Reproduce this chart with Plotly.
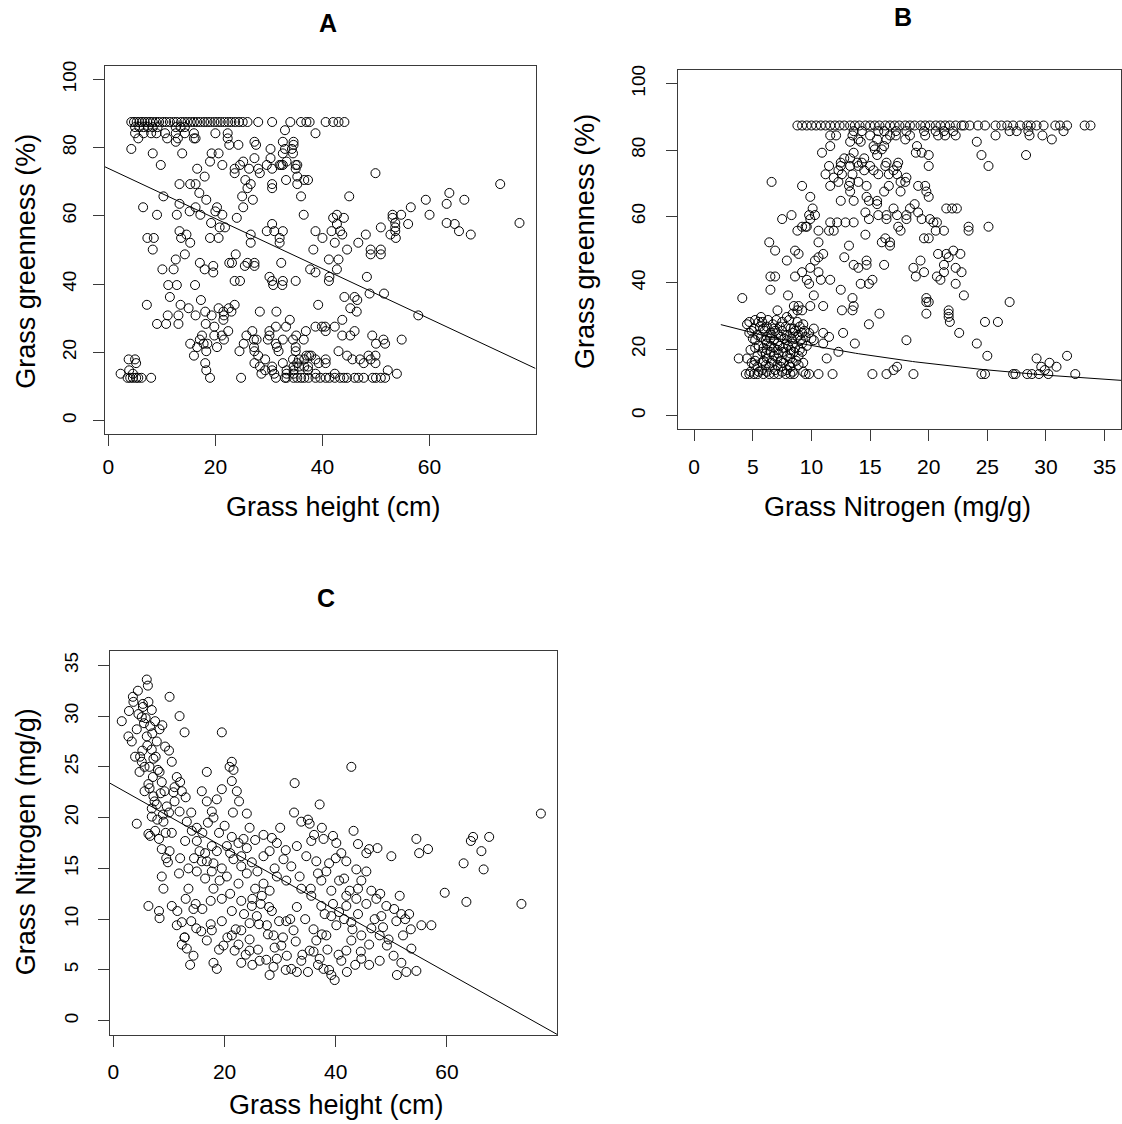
import numpy as np
import plotly.graph_objects as go

W, H = 1122, 1124

# ---- Panel A: grass height (cm) vs greenness (%), rows grouped by greenness ----
A_ROWS = [
    (87.5, [4.3, 4.8, 5.3, 5.8, 6.3, 6.8, 7.3, 7.8, 8.3, 8.9, 9.5, 10.2, 10.8, 11.5, 12.2, 12.8,
            13.6, 14.2, 14.8, 15.4, 16.0, 16.6, 17.2, 17.9, 18.5, 19.1, 19.8, 20.4, 21.0, 21.7,
            22.4, 23.0, 23.7, 24.4, 25.1, 26.0, 28.0, 30.6, 34.0, 36.0, 37.0, 37.6, 40.6, 42.0,
            43.0, 44.1]),
    (86.0, [5.0, 5.8, 6.6, 7.4, 8.3, 9.2, 12.6, 13.5, 14.3]),
    (85.1, [33.0]),
    (84.2, [5.0, 6.6, 8.0, 9.0, 10.6, 12.6, 14.3, 16.0, 20.0, 22.3, 38.7]),
    (82.7, [5.6, 11.0, 13.0, 16.0, 16.3, 22.3]),
    (81.7, [12.6, 27.3, 32.6, 34.6]),
    (80.8, [22.6, 24.3, 27.6, 34.6]),
    (79.6, [4.3, 30.3, 33.0, 34.3]),
    (78.3, [8.3, 13.8, 19.3, 20.6, 32.6, 34.5]),
    (76.9, [27.3, 30.3]),
    (75.9, [19.0, 25.2, 33.3]),
    (74.9, [9.8, 21.3, 24.6, 29.6, 32.0, 32.3, 32.6, 35.0, 35.3]),
    (73.8, [16.6, 23.6, 26.3, 28.0, 30.6, 35.0]),
    (72.5, [23.6, 28.3, 49.9]),
    (71.5, [18.0, 35.3]),
    (70.5, [25.6, 33.2, 36.6, 37.3]),
    (69.3, [13.3, 15.3, 16.3, 26.6, 30.6, 35.3, 73.2]),
    (68.1, [26.0, 30.6]),
    (66.7, [17.0, 63.7]),
    (65.7, [10.3, 25.0, 36.0, 45.0]),
    (64.7, [18.3, 27.0, 59.3, 66.5]),
    (63.5, [13.3, 63.2]),
    (62.5, [6.5, 16.3, 20.3, 25.2, 56.5]),
    (61.3, [15.2, 20.0]),
    (60.3, [9.1, 12.8, 17.2, 21.3, 36.5, 42.7, 53.1, 54.7, 60.0]),
    (59.4, [24.0, 42.0, 44.0, 53.1]),
    (57.9, [19.2, 53.6, 63.2, 76.8]),
    (57.6, [30.6, 42.7, 56.0, 64.7]),
    (56.6, [20.8, 21.8, 50.9, 53.6]),
    (55.5, [13.3, 29.6, 31.0, 32.6, 38.7, 41.7, 43.3, 53.6, 65.5]),
    (54.5, [14.6, 26.6, 43.7, 48.1, 52.7, 67.7]),
    (53.5, [7.3, 8.5, 13.6, 19.0, 20.6, 32.0, 40.0, 53.7]),
    (52.1, [15.3, 26.6, 32.0, 42.3, 46.7]),
    (50.1, [8.3, 38.3, 44.6, 49.0, 50.9]),
    (48.7, [14.3, 23.8, 49.0, 50.9]),
    (47.2, [12.6, 41.2, 43.0]),
    (46.2, [17.1, 22.6, 23.1, 26.0, 27.3, 32.3]),
    (45.3, [19.6, 25.5, 27.3]),
    (44.3, [10.1, 12.2, 18.0, 37.7, 42.7]),
    (43.4, [19.6, 38.7]),
    (42.1, [30.1, 41.3, 48.3]),
    (40.9, [23.6, 24.6, 30.6, 32.6, 35.0, 41.2]),
    (39.7, [11.2, 12.8, 16.2, 30.8, 32.5]),
    (37.2, [48.8, 51.5]),
    (36.2, [11.5, 44.1, 46.0]),
    (35.3, [17.3, 46.5]),
    (33.9, [7.2, 13.5, 23.6, 39.2]),
    (32.9, [15.0, 20.6, 22.5, 45.2]),
    (31.9, [18.1, 21.5, 23.0, 28.3, 31.4, 46.4]),
    (30.8, [11.1, 13.1, 16.3, 19.3, 21.6, 57.9]),
    (29.5, [21.5, 33.9, 43.7]),
    (28.3, [9.1, 10.8, 13.1, 18.2]),
    (27.5, [19.8, 31.3, 33.2, 38.7, 39.9, 40.5, 42.3]),
    (26.2, [22.4, 26.9, 30.1, 36.9, 40.6, 46.0]),
    (24.9, [17.5, 19.8, 21.2, 25.8, 30.1, 35.1, 43.7, 45.2, 49.3]),
    (23.7, [17.1, 21.6, 27.2, 27.7, 29.8, 32.6, 34.5, 36.5, 51.4, 54.8]),
    (22.5, [15.3, 17.8, 18.5, 25.3, 31.3, 50.0, 51.7]),
    (21.5, [16.6, 20.3, 27.2, 31.5, 35.0]),
    (20.3, [18.3, 24.5, 27.3, 31.8, 35.0, 43.0]),
    (19.0, [16.0, 28.0, 37.0, 37.5, 37.9, 44.6, 48.6, 49.9]),
    (17.9, [3.8, 5.0, 29.3, 34.5, 35.6, 36.6, 38.7, 40.6, 45.6, 47.0, 49.0]),
    (16.8, [5.2, 18.1, 27.3, 32.6, 35.3, 39.3, 40.6, 47.7, 49.9]),
    (15.8, [28.3, 30.6, 34.6, 35.6, 36.6, 37.3]),
    (14.7, [3.9, 18.3, 29.3, 30.6, 33.3, 34.6, 37.3, 52.2]),
    (13.7, [2.3, 4.6, 28.6, 31.0, 33.3, 34.6, 38.7, 42.3, 53.9]),
    (12.5, [3.6, 4.1, 4.6, 5.2, 5.6, 6.2, 8.0, 19.0, 24.8, 31.3, 33.0, 33.3, 34.6, 35.3, 36.0,
            36.6, 37.4, 38.7, 39.6, 40.6, 41.3, 42.3, 43.3, 44.0, 44.6, 46.0, 46.7, 47.7, 49.4,
            50.0, 50.9, 51.7]),
]
A_FIT = (73.9, -0.735)          # intercept, slope of the linear fit

# ---- Panel B: grass nitrogen (mg/g) vs greenness (%), rows grouped by greenness ----
B_ROWS = [
    (87.4, [8.8, 9.2, 9.6, 10.0, 10.4, 10.8, 11.2, 11.6, 12.0, 12.4, 12.8, 13.3, 13.7, 14.1,
            14.6, 15.0, 15.4, 15.8, 16.3, 16.7, 17.1, 17.5, 18.0, 18.4, 18.8, 19.3, 19.7, 20.1,
            20.6, 21.0, 21.4, 21.8, 22.3, 22.8, 23.0, 23.5, 24.2, 24.8, 25.7, 26.2, 26.7, 27.2,
            27.8, 28.4, 28.7, 29.2, 29.8, 30.8, 31.2, 31.8, 33.3, 33.8]),
    (85.7, [13.6, 14.3, 15.7, 16.2, 17.2, 18.1, 19.6, 20.6, 21.3, 22.1, 26.9, 27.5, 28.5, 31.5]),
    (84.4, [11.6, 12.1, 13.5, 15.0, 16.7, 17.2, 18.4, 19.7, 20.8, 21.4, 22.3, 25.7, 28.6, 29.7]),
    (83.2, [14.0, 15.6, 16.4, 18.0, 30.5]),
    (82.5, [13.3, 14.2, 24.1]),
    (81.2, [11.6, 15.3, 16.2, 19.0]),
    (80.2, [15.4, 16.0]),
    (79.2, [10.9, 13.6, 18.9, 19.4]),
    (78.5, [15.6, 20.0, 24.5, 28.3]),
    (77.5, [12.8, 13.3, 14.5]),
    (76.2, [12.5, 13.9, 14.3, 16.4, 17.4]),
    (75.2, [11.5, 12.5, 13.3, 14.0, 15.0, 16.3, 17.3, 20.0, 25.1]),
    (73.9, [12.3, 14.5, 15.3, 17.0]),
    (72.7, [11.2, 12.6, 13.5, 15.7, 16.6, 17.3]),
    (71.7, [11.9, 18.1]),
    (70.4, [6.6, 12.3, 13.3, 14.0, 17.6, 18.0]),
    (69.2, [9.2, 11.6, 13.2, 14.7, 16.6, 19.1, 19.7]),
    (67.5, [13.3, 16.2, 17.6, 19.8]),
    (65.9, [9.9, 14.7, 20.0]),
    (64.7, [12.5, 13.6, 14.9, 15.6]),
    (63.7, [15.6, 18.8]),
    (62.4, [10.1, 17.0, 18.4, 21.5, 22.0, 22.4]),
    (61.2, [14.6, 19.1]),
    (60.4, [8.3, 9.8, 10.3, 15.7, 16.4, 17.3, 18.1]),
    (59.2, [7.5, 9.9, 14.9, 16.4, 18.1, 19.4, 20.1]),
    (58.2, [11.6, 12.2, 12.9, 13.6, 20.4, 20.7]),
    (56.9, [9.2, 9.5, 9.6, 17.4, 23.4, 25.1]),
    (55.7, [8.8, 10.6, 11.5, 11.9, 17.6, 20.6, 21.3, 23.4]),
    (54.5, [14.6]),
    (53.4, [16.3, 19.6, 20.0]),
    (52.2, [6.4, 10.6, 16.0, 16.7]),
    (51.2, [13.2, 16.7]),
    (49.7, [6.9, 8.6, 22.1]),
    (48.7, [8.9, 11.0, 20.8, 21.5, 22.7]),
    (47.7, [10.6, 12.8, 21.7]),
    (46.7, [7.9, 10.3, 14.7, 19.3]),
    (45.4, [13.6, 14.7, 16.2, 21.3]),
    (44.5, [9.9, 14.0, 18.7, 22.3]),
    (43.2, [9.2, 10.6, 19.6, 21.3, 22.8]),
    (41.9, [6.5, 6.9, 8.6, 18.9, 20.7]),
    (40.9, [9.6, 10.8, 11.6, 15.2, 21.0]),
    (39.7, [9.8, 14.2, 14.9, 22.3]),
    (37.9, [6.5, 12.5]),
    (36.2, [8.0, 10.2, 23.0]),
    (35.4, [4.1, 13.5, 19.8]),
    (34.2, [19.8, 20.0, 26.9]),
    (33.0, [8.5, 8.9, 9.9, 11.0, 13.6]),
    (31.7, [7.1, 8.8, 9.2, 12.6, 13.5, 21.7]),
    (30.7, [8.4, 15.8, 19.8, 21.7]),
    (29.7, [5.7, 7.9, 21.7]),
    (28.8, [5.2, 6.3, 7.0, 8.1]),
    (28.2, [4.7, 5.5, 5.8, 7.5, 8.8, 21.8, 24.8, 25.9]),
    (27.5, [4.5, 14.9, 6.7, 9.3]),
    (26.8, [5.6, 6.2, 7.3, 7.8, 9.0]),
    (26.2, [5.1, 5.9, 6.8, 8.2, 8.5, 10.2]),
    (25.5, [4.9, 6.0, 6.9, 7.5, 8.6, 9.4]),
    (24.9, [4.7, 6.5, 7.1, 8.4, 9.2, 9.8, 11.0, 12.7, 22.6]),
    (24.3, [5.4, 6.6, 7.9, 8.9]),
    (23.7, [5.7, 6.2, 7.4, 8.8, 9.5, 11.5]),
    (23.2, [5.0, 6.5, 7.7, 8.3, 10.0]),
    (22.7, [5.2, 6.1, 6.8, 7.9, 9.1, 10.2, 18.1]),
    (21.7, [6.2, 7.1, 8.4, 9.2, 11.0, 13.7, 24.1]),
    (21.0, [5.5, 6.5, 7.3, 8.0, 9.6]),
    (20.4, [5.2, 5.9, 6.8, 7.6, 8.6]),
    (19.8, [4.8, 6.2, 7.1, 8.2, 9.0]),
    (19.2, [5.8, 6.5, 7.6, 8.5, 9.2, 12.3]),
    (18.7, [6.1, 7.2, 8.2]),
    (18.0, [5.4, 6.8, 7.9, 8.9, 25.0, 31.8]),
    (17.2, [3.8, 4.5, 6.2, 7.1, 8.2, 11.3, 29.2]),
    (16.5, [5.2, 5.9, 6.7, 7.4, 8.7]),
    (15.9, [4.9, 5.8, 6.6, 7.6, 8.4, 9.3, 30.3]),
    (15.2, [5.1, 6.1, 7.1, 8.1, 8.9]),
    (14.7, [5.4, 6.4, 7.4, 8.2, 17.3, 29.6, 30.9]),
    (13.7, [5.8, 6.9, 7.9, 17.0, 29.9]),
    (13.2, [4.8, 5.5, 6.2, 7.5, 8.4, 9.3]),
    (12.5, [4.4, 4.7, 5.1, 5.4, 5.9, 6.4, 6.8, 7.2, 7.8, 8.2, 8.5, 9.5, 9.8, 10.6, 11.8, 15.2,
            16.4, 18.7, 24.5, 24.8, 27.2, 27.4, 28.4, 28.8, 29.4, 30.2, 32.5]),
]
B_FIT = (3.3922, -0.03652, 0.000225)   # log-scale quadratic coefficients
B_FIT_RANGE = (2.27, 36.4)

# ---- Panel C: grass height (cm) vs grass nitrogen (mg/g) ----
C_HEIGHT = [
    1.5, 2.8, 3.5, 4.4, 6.0, 6.2, 3.3, 4.2, 5.1, 5.5, 6.0, 6.9, 7.2, 6.5, 5.6, 5.1, 7.8, 8.3,
    7.5, 6.9, 6.3, 5.3, 3.6, 4.7, 5.6, 6.5, 7.2, 7.8, 6.9, 7.5, 6.3, 4.2, 8.2, 8.7, 9.0, 9.6,
    8.7, 8.3, 9.2, 10.1, 11.9, 12.8, 10.5, 11.4, 12.3, 11.0, 11.9, 13.2, 14.1, 12.9, 10.5, 10.1,
    9.8, 8.7, 9.0, 10.5, 8.2, 8.3, 11.4, 12.8, 13.2, 11.5, 14.4, 14.9, 13.5, 15.0, 16.8, 19.5,
    16.8, 15.9, 16.8, 17.7, 18.6, 19.5, 20.9, 21.3, 22.2, 22.6, 24.0, 24.5, 23.4, 21.3, 20.4,
    18.6, 17.7, 15.0, 15.5, 15.9, 17.7, 19.1, 20.4, 21.6, 23.0, 24.9, 25.9, 27.0, 28.1, 29.4,
    30.6, 32.0, 32.6, 33.8, 35.6, 37.1, 33.0, 34.7, 36.5, 38.3, 40.1, 41.0, 41.9, 42.8, 43.2,
    43.7, 44.6, 45.5, 46.4, 43.7, 41.9, 40.6, 39.2, 37.4, 35.6, 33.8, 31.1, 29.4, 28.1, 26.7,
    24.9, 23.0, 21.3, 19.5, 17.7, 16.8, 18.0, 18.6, 19.8, 21.3, 23.0, 24.5, 25.8, 27.6, 28.8,
    30.2, 31.2, 32.0, 33.0, 33.8, 35.3, 36.5, 37.1, 37.8, 39.2, 39.8, 41.0, 41.9, 42.8, 44.6,
    46.4, 47.9, 49.2, 50.4, 51.8, 52.7, 54.5, 53.6, 52.1, 50.9, 51.8, 53.2, 55.4, 57.2, 50.0,
    51.5, 54.5, 56.6, 55.0, 59.6, 63.0, 63.5, 64.3, 64.7, 66.2, 66.6, 67.6, 73.4, 76.9,
    6.3, 12.3, 14.4, 13.8, 28.1, 29.4, 26.3, 24.5, 23.0, 21.8, 32.4, 31.1, 28.5, 38.3, 40.1,
    42.8, 44.6, 46.0, 47.9, 51.0, 48.2, 49.1, 47.3, 39.2, 37.4, 40.6, 41.9, 21.3, 21.6, 35.3,
    36.1, 37.8, 46.0, 44.0, 12.8,
    4.5, 5.3, 5.8, 6.6, 7.0, 6.1, 5.2, 7.6, 8.0, 7.1, 6.3, 8.5, 7.4, 6.9, 8.9, 7.9, 6.6, 9.4,
    10.8, 10.0, 9.3, 8.8, 3.9, 4.8, 2.7,
    12.0, 13.5, 14.5, 16.0, 17.0, 18.0, 19.0, 20.0, 21.5, 16.5, 18.0, 19.5, 21.0, 22.5, 24.0,
    25.5, 26.5, 23.5, 22.0, 20.5, 19.0, 17.5, 15.8, 14.0, 12.3, 24.5, 26.0, 27.5, 29.0, 30.5,
    31.8, 33.0, 34.5, 36.0, 37.5, 38.5, 36.8, 35.0, 34.0, 32.8, 38.0, 39.5, 41.5, 43.0, 44.0,
    45.5, 47.0, 48.5, 49.5, 46.0, 44.5, 43.5, 42.0, 40.5, 38.8, 36.0, 31.0, 29.8, 28.0, 27.0,
    29.0, 31.0, 33.5, 35.5, 36.8, 38.8, 40.0, 42.5, 44.0, 48.0, 50.5, 52.5, 53.5, 45.5, 47.5,
    41.5, 39.5, 37.5, 35.0, 32.5, 30.0, 28.5, 27.0, 25.5, 24.0, 22.5, 21.0, 19.5, 18.0, 16.5,
    15.0, 14.0, 13.0, 12.0, 11.0, 10.0, 9.5, 11.8, 13.0, 14.8, 16.0, 17.5, 23.0, 25.0, 26.2,
    27.8, 28.8, 25.0, 23.8, 22.5,
]
C_NITROGEN = [
    29.5, 30.5, 31.9, 32.5, 33.6, 33.0, 27.5, 28.7, 29.9, 29.3, 28.0, 26.7, 25.8, 25.0, 25.0,
    25.5, 27.5, 28.7, 29.5, 30.6, 31.4, 30.9, 31.4, 24.5, 22.6, 22.9, 22.1, 21.3, 20.1, 18.7,
    18.4, 19.4, 17.9, 16.9, 19.6, 21.1, 23.5, 24.5, 22.6, 31.9, 30.0, 28.4, 25.5, 24.0, 22.6,
    21.6, 20.6, 19.6, 18.7, 17.7, 18.5, 16.7, 15.6, 14.2, 13.0, 11.3, 10.8, 10.1, 9.4, 8.2,
    7.1, 10.8, 11.0, 9.1, 13.0, 14.7, 15.7, 28.4, 24.5, 22.6, 21.6, 20.6, 21.8, 22.8, 25.0,
    23.6, 22.6, 21.6, 20.4, 19.0, 17.9, 18.1, 17.2, 16.7, 17.2, 17.7, 16.7, 15.7, 14.7, 13.8,
    14.2, 15.9, 16.2, 15.6, 14.7, 16.2, 16.7, 17.5, 15.9, 15.2, 23.4, 19.6, 17.7, 21.3, 17.2,
    16.2, 15.7, 14.7, 17.5, 16.5, 15.7, 25.0, 18.7, 14.9, 13.8, 14.7, 12.8, 12.0, 11.3, 10.7,
    10.3, 11.3, 12.3, 13.0, 13.8, 14.2, 12.8, 12.3, 11.3, 11.8, 10.8, 9.8, 8.9, 7.9, 5.7, 5.1,
    7.4, 8.4, 8.9, 9.6, 10.3, 9.4, 8.4, 7.4, 6.4, 5.1, 4.8, 5.9, 6.9, 7.9, 6.1, 5.1, 4.5, 4.0,
    5.9, 6.9, 7.9, 8.4, 9.1, 8.4, 7.4, 6.4, 5.7, 4.8, 4.9, 7.1, 8.4, 9.8, 10.5, 10.5, 9.4, 9.4,
    16.2, 12.3, 17.9, 16.9, 16.5, 12.6, 15.5, 11.7, 17.7, 18.1, 16.7, 14.9, 18.1, 11.5, 20.4,
    11.3, 9.7, 6.4, 5.5, 4.5, 6.1, 5.9, 6.9, 5.7, 6.9, 8.9, 9.8, 10.8, 8.4, 9.4, 9.7, 6.1, 5.5,
    5.9, 4.5, 10.3, 11.3, 12.0, 12.8, 13.8, 13.8, 12.3, 25.5, 24.7, 19.4, 18.3, 17.9, 16.9,
    17.4, 8.2,
    30.2, 31.2, 29.8, 29.0, 28.3, 27.1, 26.6, 26.0, 24.7, 24.0, 23.3, 22.4, 21.6, 20.9, 20.3,
    19.8, 18.2, 18.5, 22.5, 26.6, 27.0, 29.1, 26.0, 26.0, 28.0,
    16.0, 15.0, 16.0, 18.5, 19.5, 20.0, 18.5, 19.2, 20.5, 14.0, 13.0, 12.0, 12.5, 13.5, 14.5,
    13.0, 11.5, 10.5, 9.0, 8.2, 7.0, 9.5, 8.8, 9.8, 7.5, 8.0, 7.0, 6.0, 7.2, 8.2,
    10.0, 11.2, 10.0, 9.0, 8.5, 7.0, 5.5, 4.8, 6.5, 7.8, 10.5, 11.5, 10.0, 9.0, 10.5,
    11.5, 10.0, 9.2, 8.0, 7.5, 6.8, 5.5, 4.8, 6.5, 5.0, 6.8, 5.0, 9.8, 11.2, 13.5,
    15.0, 16.8, 14.2, 13.0, 14.5, 15.5, 16.0, 12.8, 13.0, 12.5, 11.0, 10.0, 9.0, 16.5, 17.0,
    14.0, 18.2, 19.0, 19.8, 20.5, 19.0, 18.0, 18.3, 17.8, 17.0, 17.5, 16.5, 15.0, 15.5, 16.5,
    19.0, 20.5, 22.0, 23.5, 23.0, 20.5, 16.0, 14.5, 12.0, 11.5, 11.0, 11.8, 15.2, 12.0, 9.5,
    8.5, 5.3, 5.5, 6.5, 7.5,
]
C_FIT = (23.2, -0.3076)         # intercept, slope of the linear fit

XLIM_HEIGHT = (-0.65, 79.8)
YLIM_GREEN = (-4.0, 104.0)
XLIM_NITRO = (-1.4, 36.4)
YLIM_NITRO = (-1.4, 36.4)

FONT = "Liberation Sans, Arial, sans-serif"
AX_COLOR = "#3a3a3a"


def expand(rows):
    xs, ys = [], []
    for yv, xlist in rows:
        for xv in xlist:
            xs.append(xv)
            ys.append(yv)
    return xs, ys


def px_x(p):
    return p / W


def px_y(p):
    return 1 - p / H


height_a, green_a = expand(A_ROWS)
nitro_b, green_b = expand(B_ROWS)

marker = dict(symbol="circle-open", size=9, color="black", line=dict(width=1, color="black"))
line_style = dict(color="black", width=1)

fig = go.Figure()

# scatter clouds
fig.add_trace(go.Scatter(x=height_a, y=green_a, mode="markers", marker=marker,
                         xaxis="x", yaxis="y"))
fig.add_trace(go.Scatter(x=nitro_b, y=green_b, mode="markers", marker=marker,
                         xaxis="x2", yaxis="y2"))
fig.add_trace(go.Scatter(x=C_HEIGHT, y=C_NITROGEN, mode="markers", marker=marker,
                         xaxis="x3", yaxis="y3"))

# fitted lines
xa = np.linspace(XLIM_HEIGHT[0], XLIM_HEIGHT[1], 50)
fig.add_trace(go.Scatter(x=xa, y=A_FIT[0] + A_FIT[1] * xa, mode="lines", line=line_style,
                         xaxis="x", yaxis="y"))
xb = np.linspace(B_FIT_RANGE[0], B_FIT_RANGE[1], 120)
fig.add_trace(go.Scatter(x=xb, y=np.exp(B_FIT[0] + B_FIT[1] * xb + B_FIT[2] * xb ** 2),
                         mode="lines", line=line_style, xaxis="x2", yaxis="y2"))
xc_end = (YLIM_NITRO[0] - C_FIT[0]) / C_FIT[1]
xc = np.linspace(XLIM_HEIGHT[0], xc_end, 50)
fig.add_trace(go.Scatter(x=xc, y=C_FIT[0] + C_FIT[1] * xc, mode="lines", line=line_style,
                         xaxis="x3", yaxis="y3"))


def xaxis(domain, rng, ticks, anchor, standoff):
    return dict(domain=domain, range=list(rng), anchor=anchor, tickvals=ticks,
                showline=True, mirror=True, linecolor=AX_COLOR, linewidth=1.2,
                ticks="outside", ticklen=11, tickwidth=1.2, tickcolor=AX_COLOR,
                showgrid=False, zeroline=False, ticklabelstandoff=standoff,
                tickfont=dict(family=FONT, size=21, color="black"))


def yaxis(domain, rng, ticks, anchor, standoff):
    return dict(domain=domain, range=list(rng), anchor=anchor, tickvals=ticks,
                showline=True, mirror=True, linecolor=AX_COLOR, linewidth=1.2,
                ticks="outside", ticklen=11, tickwidth=1.2, tickcolor=AX_COLOR,
                showgrid=False, zeroline=False, tickangle=-90, ticklabelstandoff=standoff,
                tickfont=dict(family=FONT, size=19, color="black"))


layout = dict(
    width=W, height=H, autosize=False,
    margin=dict(l=0, r=0, t=0, b=0),
    paper_bgcolor="white", plot_bgcolor="white",
    showlegend=False,
    font=dict(family=FONT, color="black"),
    xaxis=xaxis([px_x(103), px_x(534.5)], XLIM_HEIGHT, [0, 20, 40, 60], "y", 3),
    yaxis=yaxis([px_y(431), px_y(61)], YLIM_GREEN, [0, 20, 40, 60, 80, 100], "x", 9),
    xaxis2=xaxis([px_x(677), px_x(1121)], XLIM_NITRO, [0, 5, 10, 15, 20, 25, 30, 35], "y2", 8),
    yaxis2=yaxis([px_y(425.7), px_y(65.7)], YLIM_GREEN, [0, 20, 40, 60, 80, 100], "x2", 13),
    xaxis3=xaxis([px_x(108), px_x(556)], XLIM_HEIGHT, [0, 20, 40, 60], "y3", 7),
    yaxis3=yaxis([px_y(1034.5), px_y(649)], YLIM_NITRO, [0, 5, 10, 15, 20, 25, 30, 35], "x3", 12),
)


def label(text, x, y, size, angle=0, bold=False):
    return dict(text=f"<b>{text}</b>" if bold else text, x=px_x(x), y=px_y(y),
                xref="paper", yref="paper", xanchor="center", yanchor="middle",
                showarrow=False, textangle=angle,
                font=dict(family=FONT, size=size, color="black"))


layout["annotations"] = [
    label("A", 327, 18, 25, bold=True),
    label("B", 903, 12, 25, bold=True),
    label("C", 325, 596, 25, bold=True),
    label("Grass height (cm)", 332, 504, 27),
    label("Grass greenness (%)", 24, 257, 27, angle=-90),
    label("Grass Nitrogen (mg/g)", 897, 504, 27),
    label("Grass greenness (%)", 584, 237, 27, angle=-90),
    label("Grass height (cm)", 335, 1105, 27),
    label("Grass Nitrogen (mg/g)", 24, 840, 27, angle=-90),
]

fig.update_layout(**layout)
fig.write_html("out.html")
